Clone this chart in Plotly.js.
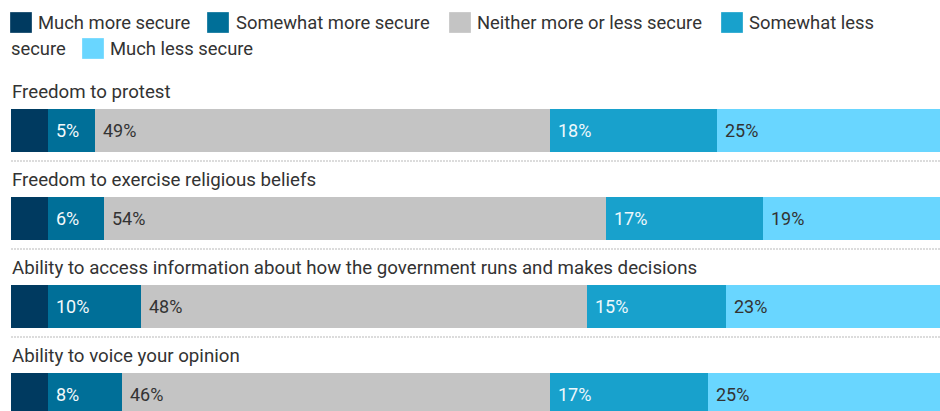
<!DOCTYPE html>
<html>
<head>
<meta charset="utf-8">
<script src="https://cdn.plot.ly/plotly-3.0.1.min.js"></script>
<style>
html,body{margin:0;padding:0;overflow:hidden;background:#fff;}
#chart{width:940px;height:411px;}
</style>
</head>
<body>
<div id="chart"></div>
<script>
// ---- data ----
var categories = [
  "Freedom to protest",
  "Freedom to exercise religious beliefs",
  "Ability to access information about how the government runs and makes decisions",
  "Ability to voice your opinion"
];
var seriesNames = [
  "Much more secure",
  "Somewhat more secure",
  "Neither more or less secure",
  "Somewhat less secure",
  "Much less secure"
];
var muchMore     = [4, 4, 4, 4];
var somewhatMore = [5, 6, 10, 8];
var neither      = [49, 54, 48, 46];
var somewhatLess = [18, 17, 15, 17];
var muchLess     = [25, 19, 23, 25];
var showLabel    = [false, true, true, true, true];

// ---- styles ----
var colors = ["#003a60", "#006f98", "#c4c4c4", "#18a1cc", "#69d6ff"];
var labelColors = ["#ffffff", "#f4f9fb", "#333333", "#eef8fc", "#333333"];
var FONT = "Roboto, 'Noto Sans', Arial, sans-serif";
var TXT = "#333333";
var FS_CAT = 18.7, FS_LEG = 18.4, FS_VAL = 18;

var W = 940, H = 411, ML = 11;
var PW = W - ML;
function px2x(px){ return (px - ML) / PW; }
function py2y(py){ return (H - py) / H; }

var series = [muchMore, somewhatMore, neither, somewhatLess, muchLess];
var yIdx = categories.map(function(_, i){ return i; });

var traces = series.map(function(vals, s){
  return {
    type: "bar", orientation: "h",
    x: vals, y: yIdx, name: seriesNames[s],
    width: 43/88,
    marker: {color: colors[s], line: {width: 0}},
    hoverinfo: "x+name", showlegend: false
  };
});

var annotations = [];
var shapes = [];

// value labels
var cum = categories.map(function(){ return 0; });
series.forEach(function(vals, s){
  vals.forEach(function(v, i){
    if (showLabel[s]) {
      annotations.push({
        x: cum[i], y: i, xref: "x", yref: "y",
        xanchor: "left", yanchor: "middle", xshift: 6,
        text: v + "%", showarrow: false,
        font: {family: FONT, size: FS_VAL, color: labelColors[s]}
      });
    }
    cum[i] += v;
  });
});

// category labels and dotted separators
categories.forEach(function(c, i){
  annotations.push({
    x: 0, y: i, xref: "paper", yref: "y",
    xanchor: "left", yanchor: "middle", yshift: 38.5, xshift: -1,
    text: c, showarrow: false,
    font: {family: FONT, size: FS_CAT, color: TXT}
  });
  shapes.push({
    type: "line", xref: "paper", yref: "y",
    x0: 0, x1: 1, y0: i + 30.5/88, y1: i + 30.5/88,
    line: {color: "#dcdcdc", width: 2, dash: "2px,1px"}
  });
});

// custom legend (wrapped like the original)
var legendSwatches = [
  {s: 0, x: 10, y: 12},
  {s: 1, x: 207, y: 12},
  {s: 2, x: 449, y: 12},
  {s: 3, x: 721, y: 12},
  {s: 4, x: 82, y: 38}
];
var legendTexts = [
  {t: seriesNames[0], x: 36, y: 22.5},
  {t: seriesNames[1], x: 234, y: 22.5},
  {t: seriesNames[2], x: 475, y: 22.5},
  {t: "Somewhat less", x: 747, y: 22.5},
  {t: "secure", x: 9, y: 49},
  {t: seriesNames[4], x: 108, y: 49}
];
legendSwatches.forEach(function(d){
  shapes.push({
    type: "rect", xref: "paper", yref: "paper",
    x0: px2x(d.x), x1: px2x(d.x + 22), y0: py2y(d.y), y1: py2y(d.y + 21),
    fillcolor: colors[d.s], line: {width: 0.5, color: "rgba(255,255,255,0.6)"}
  });
});
legendTexts.forEach(function(d){
  annotations.push({
    x: px2x(d.x), y: py2y(d.y), xref: "paper", yref: "paper",
    xanchor: "left", yanchor: "middle", showarrow: false,
    text: d.t, font: {family: FONT, size: FS_LEG, color: TXT}
  });
});

var layout = {
  width: W, height: H,
  margin: {l: ML, r: 0, t: 0, b: 0, pad: 0},
  paper_bgcolor: "#ffffff", plot_bgcolor: "#ffffff",
  barmode: "stack", bargap: 0,
  showlegend: false,
  xaxis: {range: [0, 100], visible: false, fixedrange: true},
  yaxis: {range: [(H - 130.5)/88, -130.5/88], visible: false, fixedrange: true},
  annotations: annotations,
  shapes: shapes,
  font: {family: FONT, color: TXT}
};

Plotly.newPlot("chart", traces, layout, {displayModeBar: false, staticPlot: true});
</script>
</body>
</html>
